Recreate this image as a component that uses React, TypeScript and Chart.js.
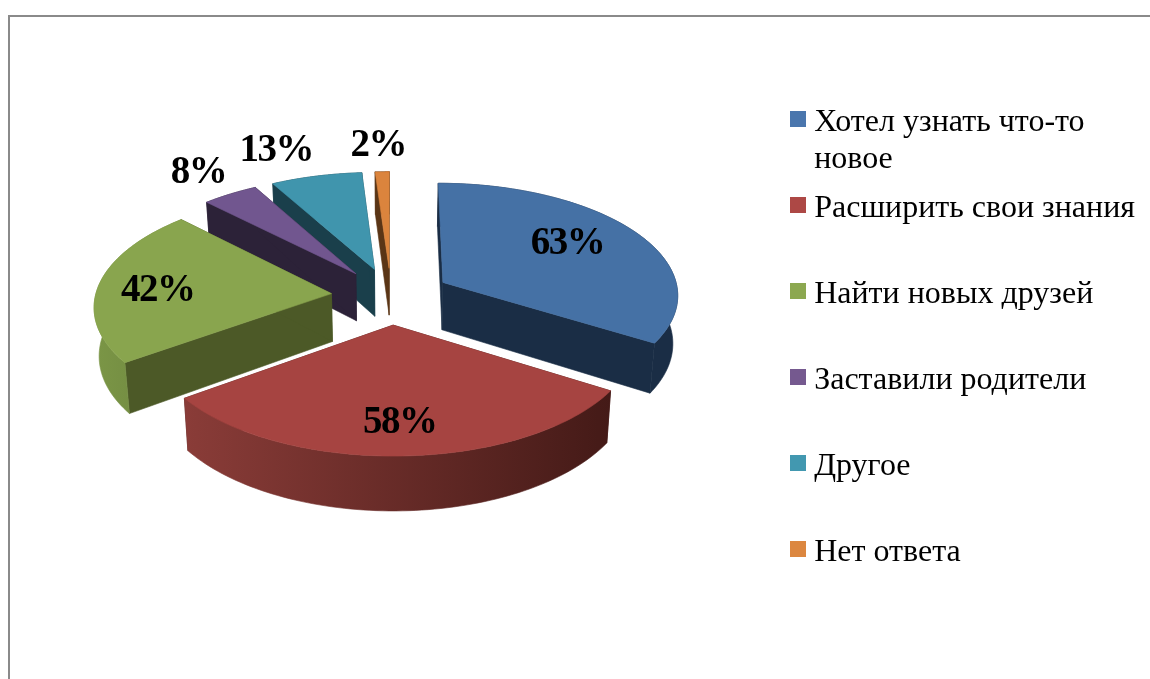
import React, { useEffect, useRef } from "react";
import { Chart, registerables } from "chart.js";

Chart.register(...registerables);

const categories = [
  "Хотел узнать что-то новое",
  "Расширить свои знания",
  "Найти новых друзей",
  "Заставили родители",
  "Другое",
  "Нет ответа",
];
const legendLines = [
  ["Хотел узнать что-то", "новое"],
  ["Расширить свои знания", ""],
  ["Найти новых друзей", ""],
  ["Заставили родители", ""],
  ["Другое", ""],
  ["Нет ответа", ""],
];
const percentages = [63, 58, 42, 8, 13, 2];

const topColors = ["#4571a5", "#a64441", "#89a54e", "#71568f", "#4095ad", "#db843d"];
const legendColors = ["#4a76ad", "#ad4845", "#8ca850", "#75598f", "#4298b0", "#dc8740"];
const cutColors = ["#1a2d45", "#4a1c19", "#4c5927", "#2c2238", "#1a3f4b", "#5a3516"];
const wallLeftColors = ["#1a2d45", "#8a3c38", "#7b9646", "#2c2238", "#1a3f4b", "#5a3516"];
const wallRightColors = ["#1a2d45", "#441a17", "#6d853f", "#2c2238", "#1a3f4b", "#5a3516"];

const labelRadial = [0.69, 0.73, 0.72, 1.33, 1.37, 1.33];
const labelNudgeX = [-10, 0, -6, 6, -21, -2];
const labelNudgeY = [-3, 5, 4, 3, 5, 3];

const RADIUS = 236;
const EXPLODE = 60;
const TILT = 0.473;
const PERSPECTIVE = 0.1;
const DEPTH = 48;
const DEPTH_SHRINK = 0.017;
const SHIFT_X = -2;
const SHIFT_Y = -63;
const SERIF = "'Liberation Serif', 'Times New Roman', serif";

function projector(cx: number, cy: number, R: number) {
  return (u: number, v: number, z: number) => {
    const w = 1 - (PERSPECTIVE * v) / R;
    return [cx + (u / w) * (1 - (DEPTH_SHRINK * z) / DEPTH), cy + (TILT * v + z) / w];
  };
}

const pie3d = {
  id: "pie3d",
  beforeDatasetDraw(chart: any) {
    const ctx = chart.ctx as CanvasRenderingContext2D;
    const arcs = chart.getDatasetMeta(0).data as any[];
    const order = arcs
      .map((a, i) => {
        const mid = (a.startAngle + a.endAngle) / 2;
        return { a, i, key: Math.sin(mid) };
      })
      .sort((p, q) => p.key - q.key);

    for (const { a, i } of order) {
      const R = a.outerRadius;
      const project = projector(a.x + SHIFT_X, a.y + SHIFT_Y, R);
      const mid = (a.startAngle + a.endAngle) / 2;
      const off = a.options.offset || 0;
      const ou = Math.cos(mid) * off;
      const ov = Math.sin(mid) * off;
      const steps = 80;
      const rim: number[][] = [];
      for (let s = 0; s <= steps; s++) {
        const t = a.startAngle + ((a.endAngle - a.startAngle) * s) / steps;
        rim.push([ou + Math.cos(t) * R, ov + Math.sin(t) * R]);
      }
      const poly = (pts: number[][], fill: any) => {
        ctx.beginPath();
        pts.forEach((p, k) => (k ? ctx.lineTo(p[0], p[1]) : ctx.moveTo(p[0], p[1])));
        ctx.closePath();
        ctx.fillStyle = fill;
        ctx.fill();
        ctx.strokeStyle = fill;
        ctx.lineWidth = 0.6;
        ctx.stroke();
      };
      const top = (p: number[]) => project(p[0], p[1], 0);
      const bot = (p: number[]) => project(p[0], p[1], DEPTH);
      const apex = [ou, ov];

      for (const edge of [rim[0], rim[steps]]) {
        poly([top(apex), top(edge), bot(edge), bot(apex)], cutColors[i]);
      }
      const tops = rim.map(top);
      const bots = rim.map(bot);
      const xs = tops.map((p) => p[0]);
      const grad = ctx.createLinearGradient(Math.min(...xs), 0, Math.max(...xs), 0);
      grad.addColorStop(0, wallLeftColors[i]);
      grad.addColorStop(1, wallRightColors[i]);
      poly([...tops, ...bots.slice().reverse()], grad);
      poly([top(apex), ...tops], topColors[i]);
    }
    return false;
  },
  afterDatasetsDraw(chart: any) {
    const ctx = chart.ctx as CanvasRenderingContext2D;
    const arcs = chart.getDatasetMeta(0).data as any[];
    ctx.save();
    ctx.font = `bold 39px ${SERIF}`;
    (ctx as any).letterSpacing = "-1.5px";
    ctx.fillStyle = "#000";
    ctx.textAlign = "center";
    ctx.textBaseline = "middle";
    arcs.forEach((a, i) => {
      const R = a.outerRadius;
      const project = projector(a.x + SHIFT_X, a.y + SHIFT_Y, R);
      const mid = (a.startAngle + a.endAngle) / 2;
      const d = (a.options.offset || 0) + labelRadial[i] * R;
      const p = project(Math.cos(mid) * d, Math.sin(mid) * d, 0);
      ctx.fillText(`${percentages[i]}%`, p[0] + labelNudgeX[i], p[1] + labelNudgeY[i]);
    });
    ctx.restore();
  },
};

function swatch(color: string) {
  const c = document.createElement("canvas");
  c.width = 16;
  c.height = 24;
  const g = c.getContext("2d")!;
  g.fillStyle = color;
  g.fillRect(0, 0, 16, 16);
  return c;
}

export default function App() {
  const ref = useRef<HTMLCanvasElement>(null);
  useEffect(() => {
    const chart = new Chart(ref.current!, {
      type: "pie",
      data: {
        labels: categories,
        datasets: [
          {
            data: percentages,
            backgroundColor: topColors,
            offset: EXPLODE,
            borderWidth: 0,
          },
        ],
      },
      options: {
        responsive: false,
        animation: false,
        radius: RADIUS,
        events: [],
        layout: { padding: { top: 39, right: 5, left: 0, bottom: 0 } },
        plugins: {
          tooltip: { enabled: false },
          legend: {
            position: "right",
            labels: {
              color: "#000",
              font: { family: SERIF, size: 32, lineHeight: 37 / 32 },
              padding: 12,
              usePointStyle: true,
              pointStyleWidth: 0.01,
              boxHeight: 16,
              generateLabels: () =>
                legendLines.map((text, i) => ({
                  text,
                  fillStyle: legendColors[i],
                  strokeStyle: legendColors[i],
                  lineWidth: 0,
                  pointStyle: swatch(legendColors[i]),
                  index: i,
                  hidden: false,
                })),
            },
          },
        },
      } as any,
      plugins: [pie3d as any],
    });
    return () => chart.destroy();
  }, []);
  return (
    <div style={{ position: "fixed", inset: 0, overflow: "hidden", background: "#fff" }}>
      <div
        style={{
          position: "absolute",
          left: 8,
          top: 15,
          right: 0,
          bottom: 0,
          borderTop: "2px solid #8a8a8a",
          borderLeft: "2px solid #8a8a8a",
        }}
      />
      <canvas ref={ref} width={1150} height={679} style={{ position: "absolute", left: 0, top: 0 }} />
    </div>
  );
}
